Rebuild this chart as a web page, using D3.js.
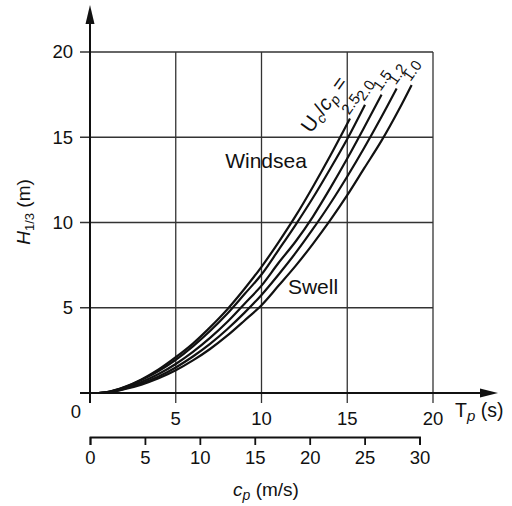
<!DOCTYPE html>
<html><head><meta charset="utf-8">
<script src="https://cdn.jsdelivr.net/npm/d3@7"></script>
<style>
body{margin:0;background:#fff}
text{font-family:"Liberation Sans",Arial,Helvetica,sans-serif;fill:#111}
</style>
</head><body>
<svg id="chart" width="512" height="506"></svg>
<script>
// ---- data ----
const ratioLabels = ["2.5", "2.0", "1.5", "1.2", "1.0"];
const tp25 = [0.5,1,2,3,4,5,6,7,8,9,10,11,12,13,14,15.16];
const hs25 = [0,0.06,0.35,0.8,1.38,2.1,2.9,3.85,4.9,6.1,7.4,8.85,10.4,12.1,13.9,16.1];
const tp20 = [0.5,1,2,3,4,5,6,7,8,9,10,11,12,13,14,15,16.03];
const hs20 = [0,0.05,0.33,0.76,1.29,1.95,2.74,3.64,4.65,5.79,6.95,8.4,9.88,11.45,13.14,14.9,16.9];
const tp15 = [0.5,1,2,3,4,5,6,7,8,9,10,11,12,13,14,15,16,17.0];
const hs15 = [0,0.04,0.3,0.64,1.11,1.7,2.41,3.23,4.16,5.22,6.3,7.64,8.9,10.35,12.0,13.75,15.6,17.5];
const tp12 = [0.5,1,2,3,4,5,6,7,8,9,10,11,12,13,14,15,16,17,17.88];
const hs12 = [0,0.03,0.25,0.56,0.97,1.5,2.14,2.88,3.74,4.7,5.75,6.95,8.23,9.62,11.1,12.7,14.4,16.2,17.86];
const tp10 = [0.5,1,2,3,4,5,6,7,8,9,10,11,12,13,14,15,16,17,18,18.75];
const hs10 = [0,0.03,0.22,0.49,0.86,1.33,1.91,2.58,3.36,4.24,5.15,6.3,7.47,8.75,10.12,11.6,13.2,14.8,16.6,18.06];
const tpTicks = [5, 10, 15, 20];
const hTicks = [5, 10, 15, 20];
const cpTicks = [0, 5, 10, 15, 20, 25, 30];

const seriesT = [tp25, tp20, tp15, tp12, tp10];
const seriesH = [hs25, hs20, hs15, hs12, hs10];

// ---- scales ----
const svg = d3.select("#chart");
const x = d3.scaleLinear().domain([0, 20]).range([90, 433]);
const y = d3.scaleLinear().domain([0, 20]).range([393, 52]);
const g = 9.81;
const cpMaxT = 30 * 2 * Math.PI / g;
const cp = d3.scaleLinear().domain([0, 30]).range([x(0), x(cpMaxT)]);

// ---- grid ----
const grid = svg.append("g").attr("stroke", "#333").attr("stroke-width", 1.3);
grid.selectAll("line.v").data(tpTicks).join("line")
  .attr("x1", d => x(d)).attr("x2", d => x(d))
  .attr("y1", y(20)).attr("y2", y(0) + 10);
grid.selectAll("line.h").data(hTicks).join("line")
  .attr("y1", d => y(d)).attr("y2", d => y(d))
  .attr("x1", x(0) - 10).attr("x2", x(20));

// ---- axes with arrows ----
svg.append("line").attr("x1", x(0) - 10).attr("x2", 484).attr("y1", y(0)).attr("y2", y(0))
  .attr("stroke", "#111").attr("stroke-width", 2);
svg.append("path").attr("d", `M498,${y(0)} L480,${y(0)-4.5} L480,${y(0)+4.5} Z`).attr("fill", "#111");
svg.append("line").attr("x1", x(0)).attr("x2", x(0)).attr("y1", y(0) + 10).attr("y2", 20)
  .attr("stroke", "#111").attr("stroke-width", 2);
svg.append("path").attr("d", `M${x(0)},5 L${x(0)-4.5},24 L${x(0)+4.5},24 Z`).attr("fill", "#111");

// ---- tick labels ----
const fs = 18.5;
svg.selectAll("text.yt").data(hTicks).join("text")
  .attr("x", 73).attr("y", d => y(d)).attr("dy", "0.35em")
  .attr("text-anchor", "end").attr("font-size", fs).text(d => d);
svg.selectAll("text.xt").data(tpTicks).join("text")
  .attr("x", d => x(d)).attr("y", 425).attr("text-anchor", "middle")
  .attr("font-size", fs).text(d => d);
svg.append("text").attr("x", 76).attr("y", 418).attr("text-anchor", "middle")
  .attr("font-size", fs).text("0");

// T_p (s)
const tl = svg.append("text").attr("x", 455).attr("y", 417).attr("font-size", 19.5);
tl.append("tspan").text("T");
tl.append("tspan").attr("font-style", "italic").attr("font-size", 15).attr("dy", 4).text("p");
tl.append("tspan").attr("dy", -4).text(" (s)");

// y label
const yl = svg.append("text").attr("transform", "translate(30,212) rotate(-90)")
  .attr("text-anchor", "middle").attr("font-size", 19);
yl.append("tspan").attr("font-style", "italic").text("H");
yl.append("tspan").attr("font-size", 13).attr("dy", 4).text("1/3");
yl.append("tspan").attr("dy", -4).text(" (m)");

// ---- c_p axis ----
const cpAxis = svg.append("g").attr("transform", `translate(0,437)`)
  .call(d3.axisBottom(cp).tickValues(cpTicks).tickSize(8).tickSizeOuter(8).tickPadding(6));
cpAxis.select(".domain").attr("stroke", "#111").attr("stroke-width", 1.8);
cpAxis.selectAll(".tick line").attr("stroke", "#111").attr("stroke-width", 1.8);
cpAxis.selectAll(".tick text").attr("font-size", fs).attr("font-family", "Liberation Sans, Arial, sans-serif").attr("fill", "#111");
const cl = svg.append("text").attr("x", 266).attr("y", 496).attr("text-anchor", "middle").attr("font-size", 19);
cl.append("tspan").attr("font-style", "italic").text("c");
cl.append("tspan").attr("font-style", "italic").attr("font-size", 14).attr("dy", 4).text("p");
cl.append("tspan").attr("dy", -4).text(" (m/s)");

// ---- curves ----
const line = d3.line().x(d => x(d[0])).y(d => y(d[1])).curve(d3.curveMonotoneX);
seriesT.forEach((ts, i) => {
  const pts = ts.map((t, j) => [t, seriesH[i][j]]);
  svg.append("path").datum(pts).attr("d", line)
    .attr("fill", "none").attr("stroke", "#111").attr("stroke-width", 2.2);
  const last = pts[pts.length - 1];
  svg.append("text")
    .attr("transform", `translate(${x(last[0]) - 1},${y(last[1]) - 3}) rotate(-55)`)
    .attr("font-size", 15).text(ratioLabels[i]);
});

// U_c/c_p =
const ul = svg.append("text").attr("transform", "translate(311,134) rotate(-54)").attr("font-size", 20.5);
ul.append("tspan").text("U");
ul.append("tspan").attr("font-style", "italic").attr("font-size", 14).attr("dy", 4).text("c");
ul.append("tspan").attr("dy", -4).text("/");
ul.append("tspan").attr("font-style", "italic").text("c");
ul.append("tspan").attr("font-style", "italic").attr("font-size", 14).attr("dy", 4).text("p");
ul.append("tspan").attr("dy", -4).text(" =");

// region labels
svg.append("text").attr("x", 266).attr("y", 168).attr("text-anchor", "middle").attr("font-size", 21).text("Windsea");
svg.append("text").attr("x", 313).attr("y", 294).attr("text-anchor", "middle").attr("font-size", 21).text("Swell");
</script>
</body></html>
